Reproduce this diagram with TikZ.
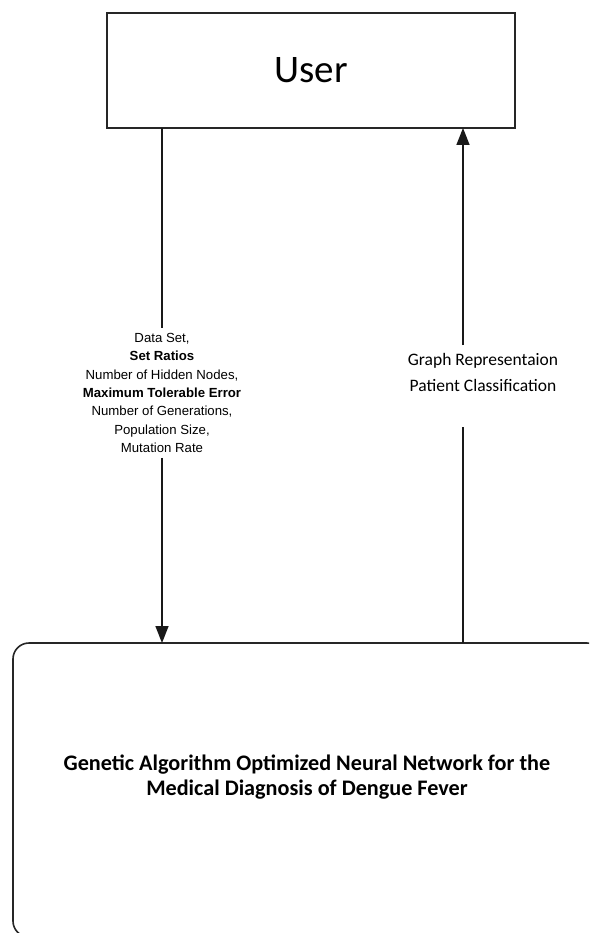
\documentclass[tikz,border=0pt]{standalone}
\usepackage{fontspec}
\setmainfont{Carlito}
\newfontfamily\arialf{Liberation Sans}
\usetikzlibrary{arrows.meta}
\begin{document}
\begin{tikzpicture}[x=1pt,y=-1pt,
  box/.style={draw=black!85,line width=1.6pt},
  conn/.style={draw=black!90,line width=1.6pt},
  arr/.style={conn,-{Triangle[length=17pt,width=13pt]}},
  lbl/.style={align=center,inner sep=0pt}]
\useasboundingbox (0,0) rectangle (589,933);
\clip (0,0) rectangle (589,933);
% boxes
\node[box,minimum width=408pt,minimum height=115pt,inner sep=0pt,
      font=\fontsize{39}{44}\selectfont] (user) at (311,70.5) {User};
\draw[box,rounded corners=16pt] (13,643) rectangle (603,937);
\node[lbl,font=\bfseries\fontsize{22.2}{25.5}\selectfont] (ga) at (307,777)
  {Genetic Algorithm Optimized Neural Network for the\\Medical Diagnosis of Dengue Fever};
% named points
\coordinate (dtop) at (162,128);
\coordinate (dbot) at (162,643);
\coordinate (utop) at (463,128);
\coordinate (ubot) at (463,643);
\coordinate (ugap1) at (463,345);
\coordinate (ugap2) at (463,427);
% labels
\node[lbl,inner sep=5pt,font=\arialf\fontsize{13.2}{18.3}\selectfont] (inp) at (162,393)
  {Data Set,\\\textbf{Set Ratios}\\Number of Hidden Nodes,\\\textbf{Maximum Tolerable Error}\\Number of Generations,\\Population Size,\\Mutation Rate};
\node[lbl,font=\fontsize{17.5}{26}\selectfont] (out) at (483,372)
  {Graph Representaion\\Patient Classification};
% connectors
\draw[conn] (dtop) -- (inp.north -| dtop);
\draw[arr] (inp.south -| dtop) -- (dbot);
\draw[conn] (ubot) -- (ugap2);
\draw[arr] (ugap1) -- (utop);
\end{tikzpicture}
\end{document}
